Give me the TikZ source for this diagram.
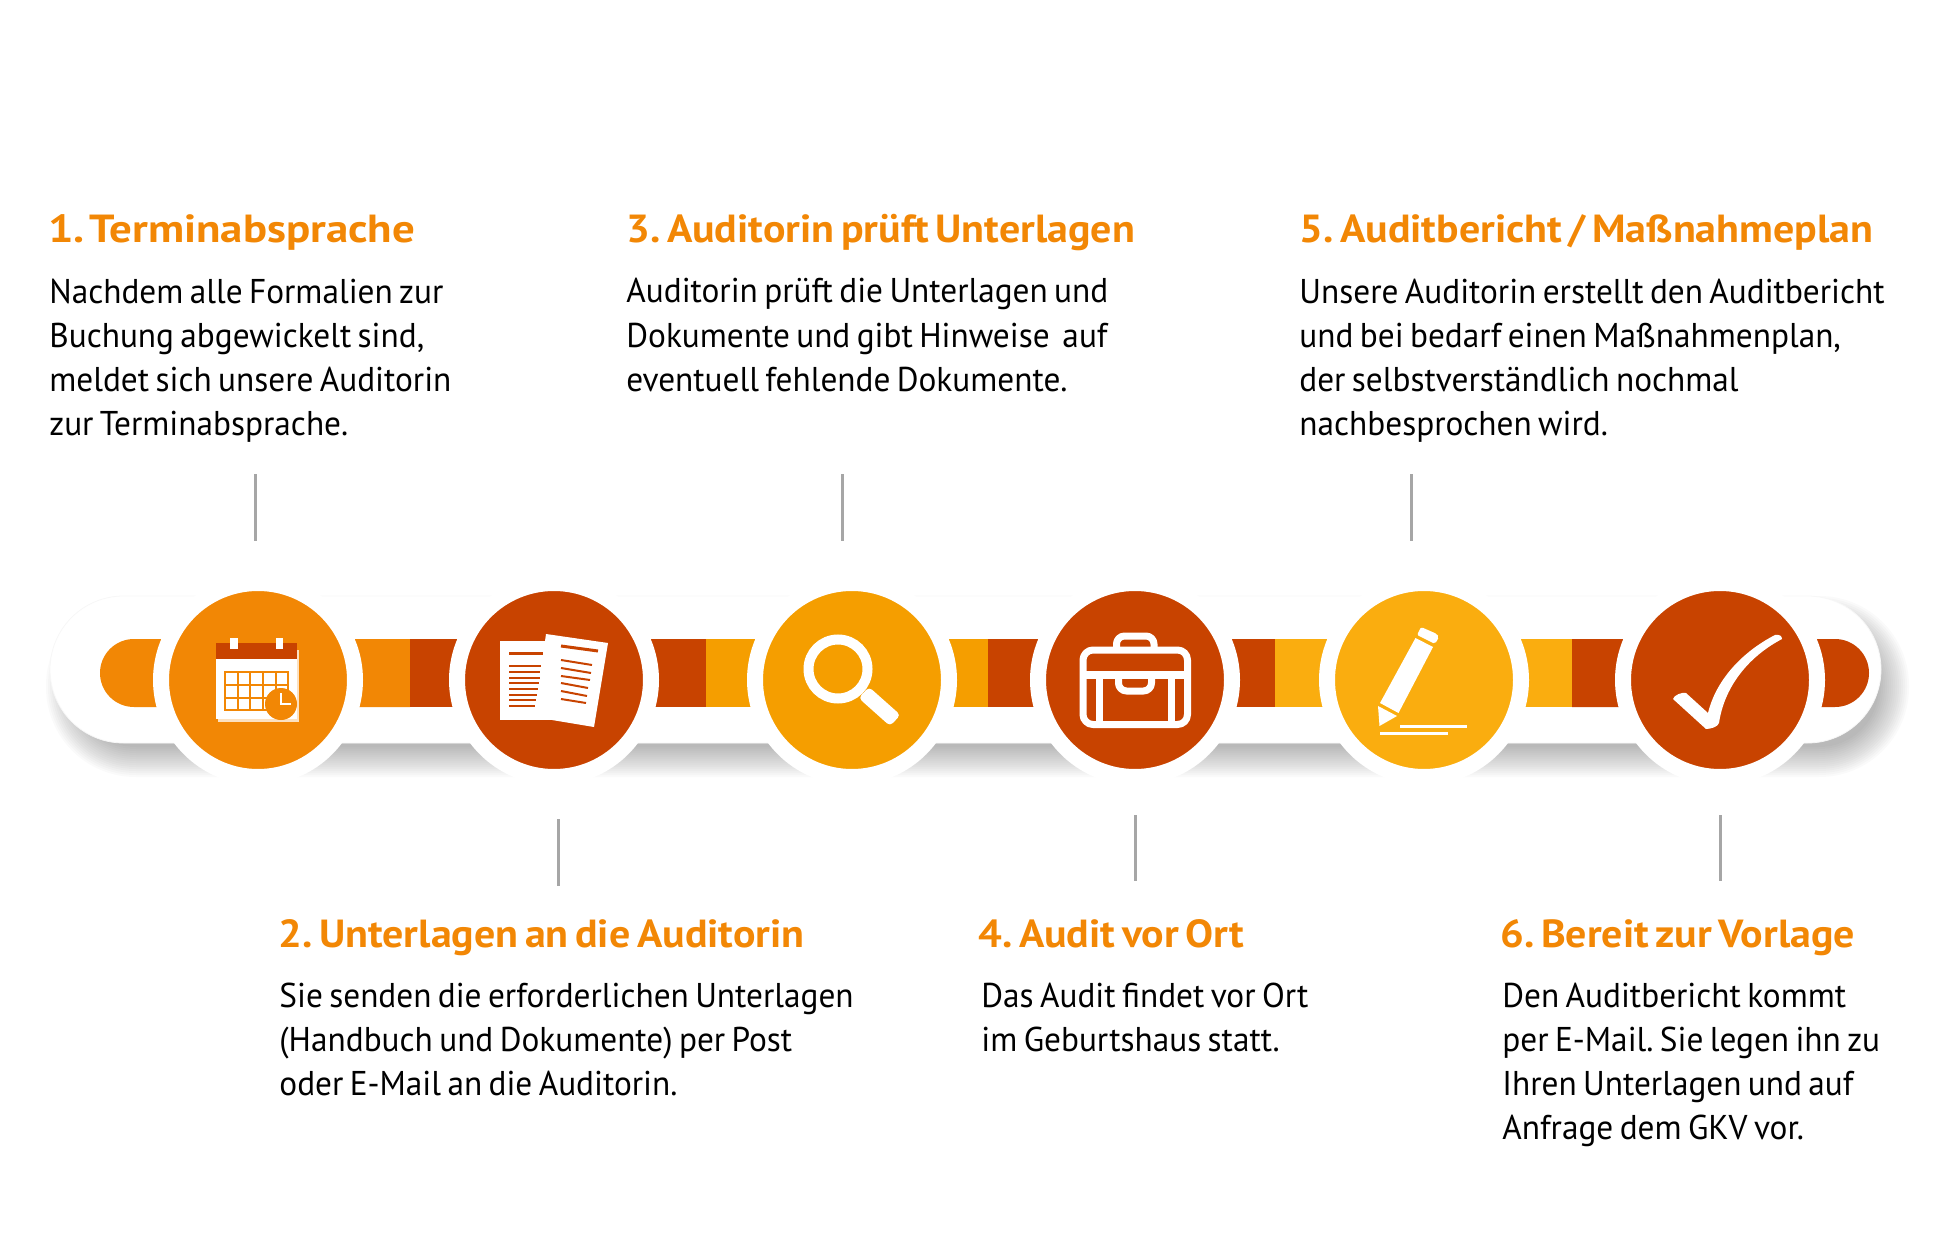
\documentclass[tikz,border=0pt]{standalone}
\usepackage{fontspec}
\setmainfont[FakeStretch=0.968,WordSpace=0.72]{PT Sans}
\newfontfamily\headfont[FakeStretch=1.07,WordSpace=0.62]{PT Sans}
\newfontfamily\headwidefont[FakeStretch=1.145,WordSpace=0.45]{PT Sans}
\definecolor{hcOrange}{HTML}{F28705}
\definecolor{hcRust}{HTML}{C84300}
\definecolor{hcAmber}{HTML}{F59E00}
\definecolor{hcYellow}{HTML}{FAAD0F}
\definecolor{hcTick}{HTML}{A6A6A6}
\usetikzlibrary{calc,positioning}
\frenchspacing

\tikzset{
  headline/.style={anchor=base west, inner sep=0pt, text=hcOrange, font=\fontsize{19.6}{22}\headfont\bfseries},
  headwide/.style={headline, font=\fontsize{19.6}{22}\headwidefont\bfseries},
  bodytext/.style={anchor=base west, inner sep=0pt, align=left, font=\fontsize{17.2}{22}\selectfont},
  stepcircle/.style={circle, draw=white, line width=8pt, minimum size=97pt, inner sep=0pt},
  tickline/.style={hcTick, line width=1.5pt},
  iconline/.style={white, line width=3.5pt, line join=round}
}

\begin{document}
\begin{tikzpicture}[x=0.5pt, y=-0.5pt]
  \useasboundingbox (0,0) rectangle (1949,1241);

  % band with its shadow
  \foreach \d in {16,14,...,-14} {
    \fill[black, opacity=0.018, rounded corners={(73.5+\d)*0.5pt}] (62-\d,612-\d) rectangle (1893+\d,761+\d);
  }
  \draw[black!3, fill=white, line width=0.4pt, rounded corners=36.75pt] (50,596) rectangle (1881,743);

  \fill[hcOrange] (410,639) [rounded corners=17pt] -- (100,639) -- (100,707) [sharp corners] -- (410,707) -- cycle;
  \fill[hcRust] (410,639) rectangle (706,707);
  \fill[hcAmber] (706,639) rectangle (988,707);
  \fill[hcRust] (988,639) rectangle (1275,707);
  \fill[hcYellow] (1275,639) rectangle (1572,707);
  \fill[hcRust] (1572,639) [rounded corners=17pt] -- (1869,639) -- (1869,707) [sharp corners] -- (1572,707) -- cycle;

  \node[stepcircle, fill=hcOrange] (termin) at (258,680) {};
  \node[stepcircle, fill=hcRust] (unterlagen) at (554,680) {};
  \node[stepcircle, fill=hcAmber] (pruefung) at (852,680) {};
  \node[stepcircle, fill=hcRust] (audit) at (1135,680) {};
  \node[stepcircle, fill=hcYellow] (bericht) at (1424,680) {};
  \node[stepcircle, fill=hcRust] (vorlage) at (1720,680) {};

  % calendar
  \fill[hcOrange!25] (218,650) rectangle (299,722);
  \fill[white] (216,643) rectangle (297,719);
  \fill[hcRust] (216,643) rectangle (297,659);
  \fill[white] (230,638) rectangle (237.5,649);
  \fill[white] (276,638) rectangle (283,649);
  \draw[hcOrange, line width=1pt] (225,672) rectangle (288,710);
  \draw[hcOrange, line width=1pt] (225,684.5) -- (288,684.5);
  \draw[hcOrange, line width=1pt] (225,697.5) -- (288,697.5);
  \draw[hcOrange, line width=1pt] (237.5,672) -- (237.5,710);
  \draw[hcOrange, line width=1pt] (250,672) -- (250,710);
  \draw[hcOrange, line width=1pt] (263,672) -- (263,710);
  \draw[hcOrange, line width=1pt] (275.5,672) -- (275.5,710);
  \fill[hcOrange] (281,704) circle [radius=16];
  \draw[white, line width=1pt] (281,693) -- (281,704) -- (291,704);

  % papers
  \fill[white] (500,641) rectangle (552,720);
  \fill[white] (546,634) -- (608,643) -- (594,727) -- (552,720) -- (545,641) -- cycle;
  \draw[hcRust, line width=1.5pt] (509,653) -- (543,653);
  \draw[hcRust, line width=1pt] (509,666) -- (541,666);
  \draw[hcRust, line width=1pt] (509,672) -- (540,672);
  \draw[hcRust, line width=1pt] (509,678) -- (539.5,678);
  \draw[hcRust, line width=1pt] (509,683) -- (539,683);
  \draw[hcRust, line width=1pt] (509,689) -- (538,689);
  \draw[hcRust, line width=1pt] (509,695) -- (537,695);
  \draw[hcRust, line width=1pt] (509,700) -- (536,700);
  \draw[hcRust, line width=1pt] (509,706) -- (535,706);
  \draw[hcRust, line width=1.5pt] (561,646) -- (598,651);
  \draw[hcRust, line width=1pt] (561,660) -- (592,665);
  \draw[hcRust, line width=1pt] (561,668) -- (591,673);
  \draw[hcRust, line width=1pt] (561,676) -- (590,680);
  \draw[hcRust, line width=1pt] (561,683) -- (588,688);
  \draw[hcRust, line width=1pt] (561,691) -- (587,696);
  \draw[hcRust, line width=1pt] (561,699) -- (586,703);

  % magnifier
  \draw[white, line width=5pt] (838,669) circle [radius=29.5];
  \fill[white, rounded corners=2pt] (869,687) -- (900.5,715) -- (890,726) -- (858.6,698) -- cycle;

  % briefcase
  \draw[iconline, rounded corners=5pt] (1083,650) rectangle (1187.5,724.5);
  \draw[white, line width=4pt] (1083,675) -- (1187.5,675);
  \draw[iconline] (1099.5,675) -- (1099.5,724);
  \draw[iconline] (1171,675) -- (1171,724);
  \draw[iconline, rounded corners=4pt] (1116.5,650) -- (1116.5,636) -- (1154,636) -- (1154,650);
  \draw[iconline, rounded corners=4pt] (1118.5,675) -- (1118.5,691) -- (1151.5,691) -- (1151.5,675);

  % pencil
  \fill[white] (1415.5,638) -- (1433,647) -- (1398.5,713) -- (1380,703) -- cycle;
  \fill[white, rounded corners=1pt] (1421,627) -- (1437,634) -- (1439,637) -- (1435,644) -- (1417,635) -- cycle;
  \fill[white] (1378,706) -- (1397,716) -- (1379.5,726) -- cycle;
  \draw[white, line width=1.5pt] (1400,726) -- (1467,726);
  \draw[white, line width=1.5pt] (1380,733) -- (1448,733);

  % check mark
  \fill[white, line join=round] (1775,635) .. controls (1742,652) and (1716,680) .. (1708,713) -- (1686,693) .. controls (1682,692) and (1674,695) .. (1673,699) -- (1706,729) .. controls (1710,729) and (1718,727) .. (1719,723) .. controls (1724,689) and (1746,658) .. (1782,639) .. controls (1782,636) and (1779,634) .. (1775,635) -- cycle;

  % ticks
  \coordinate (tick1a) at (255.5,474);
  \coordinate (tick1b) at (255.5,541);
  \coordinate (tick2a) at (558,819);
  \coordinate (tick2b) at (558,886);
  \coordinate (tick3a) at (842.5,474);
  \coordinate (tick3b) at (842.5,541);
  \coordinate (tick4a) at (1135.5,815);
  \coordinate (tick4b) at (1135.5,881);
  \coordinate (tick5a) at (1411,474);
  \coordinate (tick5b) at (1411,541);
  \coordinate (tick6a) at (1720,815);
  \coordinate (tick6b) at (1720,881);
  \draw[tickline] (tick1a) -- (tick1b);
  \draw[tickline] (tick2a) -- (tick2b);
  \draw[tickline] (tick3a) -- (tick3b);
  \draw[tickline] (tick4a) -- (tick4b);
  \draw[tickline] (tick5a) -- (tick5b);
  \draw[tickline] (tick6a) -- (tick6b);

  \node[headwide] (head1) at (48,243) {1. Terminabsprache};
  \node[bodytext] (body1) at (49,435) {Nachdem alle Formalien zur\\Buchung abgewickelt sind,\\meldet sich unsere Auditorin\\zur Terminabsprache.};
  \node[headline] (head3) at (626,243) {3. Auditorin prüft Unterlagen};
  \node[bodytext] (body3) at (626,391) {Auditorin prüft die Unterlagen und\\Dokumente und gibt Hinweise~ auf\\eventuell fehlende Dokumente.};
  \node[headline] (head5) at (1299,243) {5. Auditbericht / Maßnahmeplan};
  \node[bodytext] (body5) at (1299,435) {Unsere Auditorin erstellt den Auditbericht\\und bei bedarf einen Maßnahmenplan,\\der selbstverständlich nochmal\\nachbesprochen wird.};
  \node[headline] (head2) at (278,947) {2. Unterlagen an die Auditorin};
  \node[bodytext] (body2) at (279,1095) {Sie senden die erforderlichen Unterlagen\\(Handbuch und Dokumente) per Post\\oder E-Mail an die Auditorin.};
  \node[headline] (head4) at (978,947) {4. Audit vor Ort};
  \node[bodytext] (body4) at (981,1051) {Das Audit findet vor Ort\\im Geburtshaus statt.};
  \node[headline] (head6) at (1500,947) {6. Bereit zur Vorlage};
  \node[bodytext] (body6) at (1502,1139) {Den Auditbericht kommt\\per E-Mail. Sie legen ihn zu\\Ihren Unterlagen und auf\\Anfrage dem GKV vor.};
\end{tikzpicture}
\end{document}
